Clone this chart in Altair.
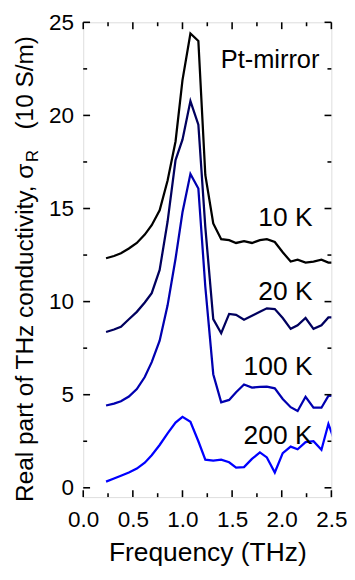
import altair as alt
import pandas as pd

# ---- data ----
freq = [0.23, 0.31, 0.38, 0.46, 0.54, 0.62, 0.69, 0.77, 0.85, 0.93, 1.00, 1.08, 1.16,
        1.23, 1.31, 1.39, 1.47, 1.54, 1.62, 1.70, 1.78, 1.85, 1.93, 2.01, 2.09, 2.16,
        2.24, 2.32, 2.40, 2.47, 2.55]
s_10K = [12.33, 12.45, 12.6, 12.85, 13.15, 13.6, 14.1, 14.9, 16.5, 18.6, 21.9, 24.4, 24.0,
         16.8, 14.2, 13.35, 13.3, 13.15, 13.25, 13.15, 13.3, 13.35, 13.2, 12.65, 12.15, 12.25,
         12.1, 12.15, 12.25, 12.1, 12.1]
s_20K = [8.37, 8.5, 8.65, 9.05, 9.45, 9.95, 10.45, 11.7, 14.3, 17.6, 18.7, 20.77, 19.5,
         14.0, 9.06, 8.3, 9.34, 9.29, 9.03, 9.24, 9.45, 9.64, 9.6, 9.12, 8.54, 8.73,
         9.12, 8.54, 8.73, 9.15, 9.15]
s_100K = [4.42, 4.52, 4.65, 4.9, 5.3, 5.95, 6.75, 7.9, 9.8, 12.3, 14.8, 16.86, 16.07,
          10.8, 6.1, 4.59, 4.72, 5.13, 5.55, 5.38, 5.42, 5.43, 5.34, 4.77, 4.33, 4.12,
          4.89, 4.3, 4.3, 4.94, 4.95]
s_200K = [0.33, 0.5, 0.65, 0.82, 1.03, 1.35, 1.75, 2.3, 2.92, 3.5, 3.81, 3.55, 2.5,
          1.51, 1.46, 1.51, 1.37, 1.08, 1.11, 1.55, 1.9, 1.63, 0.82, 1.86, 2.21, 2.07,
          2.45, 2.5, 2.04, 3.43, 2.25]

series = ["10 K", "20 K", "100 K", "200 K"]
colors = ["#000000", "#00005e", "#0000b0", "#0000ff"]

label_f = [2.31, 2.31, 2.31, 2.31]
label_s = [14.08, 10.07, 6.07, 2.33]

x_major = [0.0, 0.5, 1.0, 1.5, 2.0, 2.5]
x_minor = [0.25, 0.75, 1.25, 1.75, 2.25]
y_major = [0, 5, 10, 15, 20, 25]
y_minor = [2.5, 7.5, 12.5, 17.5, 22.5]

# ---- build table ----
rows = []
for name, vals in zip(series, [s_10K, s_20K, s_100K, s_200K]):
    for f, v in zip(freq, vals):
        rows.append({"f": f, "s": v, "T": name})
df = pd.DataFrame(rows)

W, H = 254, 486
FONT = "Liberation Sans"

xs = alt.Scale(domain=[0, 2.5], nice=False, zero=False)
ys = alt.Scale(domain=[-0.5, 25], nice=False, zero=False)

x_axis = alt.Axis(values=x_major, format=".1f", ticks=False, domain=False, grid=False,
                  labelFontSize=23, labelPadding=12, labelFlush=False, labelOverlap=False,
                  labelColor="black", title="Frequency (THz)", titleFontSize=27,
                  titleFontWeight="normal", titleColor="black",
                  titleBaseline="alphabetic", titleY=65)
y_axis = alt.Axis(values=y_major, ticks=False, domain=False, grid=False,
                  labelFontSize=23, labelPadding=10, labelFlush=False, labelOverlap=False,
                  labelColor="black", title=None)

X = lambda: alt.X("f:Q", scale=xs, axis=x_axis)
Y = lambda: alt.Y("s:Q", scale=ys, axis=y_axis)

lines = alt.Chart(df).mark_line(strokeWidth=2.3, clip=True).encode(
    x=X(), y=Y(),
    color=alt.Color("T:N", scale=alt.Scale(domain=series, range=colors), legend=None),
)

labels = alt.Chart(pd.DataFrame({"f": label_f, "s": label_s, "t": series})).mark_text(
    align="right", baseline="alphabetic", fontSize=27, color="black"
).encode(x=X(), y=Y(), text="t:N")

pt = alt.Chart(pd.DataFrame({"f": [2.38], "s": [22.55], "t": ["Pt-mirror"]})).mark_text(
    align="right", baseline="alphabetic", fontSize=26, color="black"
).encode(x=X(), y=Y(), text="t:N")

def xticks(vals, length):
    d = pd.DataFrame({"f": vals})
    bot = alt.Chart(d).mark_rule(color="black", strokeWidth=1.6).encode(
        x=X(), y=alt.value(H), y2=alt.value(H - length))
    top = alt.Chart(d).mark_rule(color="black", strokeWidth=1.6).encode(
        x=X(), y=alt.value(0), y2=alt.value(length))
    return [bot, top]

def yticks(vals, length):
    d = pd.DataFrame({"s": vals})
    left = alt.Chart(d).mark_rule(color="black", strokeWidth=1.6).encode(
        y=Y(), x=alt.value(0), x2=alt.value(length))
    right = alt.Chart(d).mark_rule(color="black", strokeWidth=1.6).encode(
        y=Y(), x=alt.value(W - length), x2=alt.value(W))
    return [left, right]

one = pd.DataFrame({"a": [0]})
yt1 = alt.Chart(one).mark_text(text="Real part of THz conductivity, σ", angle=270,
                               align="left", baseline="alphabetic", fontSize=25,
                               color="black").encode(x=alt.value(-51), y=alt.value(491))
yt2 = alt.Chart(one).mark_text(text="R", angle=270, align="left", baseline="alphabetic",
                               fontSize=17, color="black").encode(x=alt.value(-46), y=alt.value(143))
yt3 = alt.Chart(one).mark_text(text=" (10 S/m)", angle=270, align="right",
                               baseline="alphabetic", fontSize=25,
                               color="black").encode(x=alt.value(-51), y=alt.value(14))

layers = [lines, labels, pt] + xticks(x_major, 7) + xticks(x_minor, 4) \
    + yticks(y_major, 7) + yticks(y_minor, 4) + [yt1, yt2, yt3]

chart = alt.layer(*layers).properties(
    width=W, height=H,
    padding={"left": 77, "top": 8, "right": 16, "bottom": 70},
    autosize=alt.AutoSizeParams(type="none"),
).configure_view(stroke="black", strokeWidth=2).configure(font=FONT)

chart.save("out.html", embed_options={"renderer": "svg", "actions": False})
